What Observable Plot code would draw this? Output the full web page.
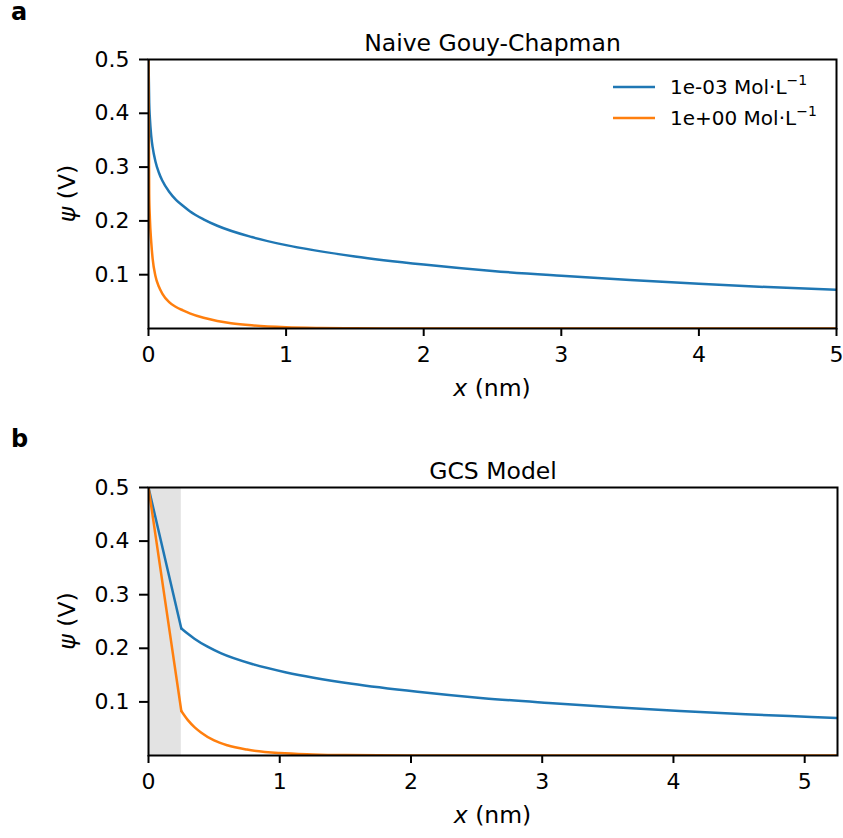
<!DOCTYPE html>
<html><head><meta charset="utf-8">
<script src="https://cdn.jsdelivr.net/npm/d3@7"></script>
<script src="https://cdn.jsdelivr.net/npm/@observablehq/plot@0.6"></script>
<style>
body{margin:0;background:#fff;}
#wrap{position:relative;width:843px;height:838px;font-family:"DejaVu Sans",sans-serif;}
#wrap svg{position:absolute;left:0;overflow:visible;}
</style></head><body><div id="wrap"></div>
<script>
// ---- Data ----
const seriesNames = ["1e-03 Mol·L", "1e+00 Mol·L"];
const seriesColors = ["#1f77b4", "#ff7f0e"];
const xTicksA = [0, 1, 2, 3, 4, 5];
const xTicksB = [0, 1, 2, 3, 4, 5];
const yTicks = [0.1, 0.2, 0.3, 0.4, 0.5];
const xDomainA = [0, 5];
const xDomainB = [0, 5.25];
const yDomain = [0, 0.5];
const sternLayer = [0, 0.25];

// Panel a: naive Gouy-Chapman
const gcLowX  = [0, 0.005, 0.01, 0.02, 0.03, 0.05, 0.075, 0.1, 0.15, 0.2, 0.25, 0.3, 0.4, 0.5, 0.75, 1, 1.5, 2, 2.5, 3, 3.5, 4, 4.5, 5];
const gcLowY  = [0.5, 0.42, 0.391, 0.357, 0.337, 0.311, 0.290, 0.275, 0.254, 0.239, 0.228, 0.218, 0.203, 0.191, 0.170, 0.155, 0.134, 0.119, 0.107, 0.098, 0.090, 0.083, 0.077, 0.072];
const gcHighX = [0, 0.005, 0.01, 0.02, 0.03, 0.05, 0.075, 0.1, 0.15, 0.2, 0.25, 0.3, 0.4, 0.5, 0.6, 0.75, 1, 1.25, 1.5, 2, 3, 5];
const gcHighY = [0.5, 0.25, 0.205, 0.16, 0.13, 0.098, 0.078, 0.065, 0.049, 0.040, 0.0337, 0.0282, 0.0199, 0.0140, 0.0099, 0.0059, 0.0024, 0.001, 0.0004, 0.0001, 0, 0];

// Panel b: GCS model (Stern segment + diffuse part)
const sternX = [0, 0.25];
const sternLowY = [0.5, 0.237];
const sternHighY = [0.5, 0.083];
const gcsLowX  = [0.25, 0.3, 0.35, 0.45, 0.55, 0.8, 1.05, 1.55, 2.05, 2.55, 3.05, 3.55, 4.05, 4.55, 5.05, 5.25];
const gcsLowY  = [0.237, 0.227, 0.218, 0.203, 0.191, 0.170, 0.155, 0.134, 0.119, 0.107, 0.098, 0.090, 0.083, 0.077, 0.072, 0.070];
const gcsHighX = [0.25, 0.3, 0.35, 0.4, 0.5, 0.6, 0.75, 1, 1.25, 1.5, 2, 3, 5.25];
const gcsHighY = [0.083, 0.066, 0.053, 0.043, 0.028, 0.019, 0.011, 0.0045, 0.002, 0.0008, 0.0001, 0, 0];

const rows = (xs, ys) => xs.map((x, i) => ({x, y: ys[i]}));

const FONT = "DejaVu Sans, sans-serif";
const wrap = document.getElementById("wrap");

function makePanel({title, xDomain, xTicks, segments, shade, top, mt, mb, mr}) {
  const marks = [];
  if (shade) marks.push(Plot.rect([shade], {x1: d => d[0], x2: d => d[1], y1: yDomain[0], y2: yDomain[1], fill: "#e3e3e3"}));
  for (const s of segments) {
    marks.push(Plot.line(s.data, {x: "x", y: "y", stroke: s.color, strokeWidth: 2.5, curve: s.curve, clip: true}));
  }
  marks.push(Plot.frame({stroke: "black", strokeWidth: 2}));
  marks.push(Plot.axisX({ticks: xTicks, tickSize: 8, tickPadding: 10, fontSize: 22, strokeWidth: 2, label: null, tickFormat: d3.format("d")}));
  marks.push(Plot.axisY({ticks: yTicks, tickSize: 9, tickPadding: 10, fontSize: 22, strokeWidth: 2, label: null, tickFormat: d3.format(".1f")}));
  marks.push(Plot.text([title], {text: d => d, frameAnchor: "top", lineAnchor: "bottom", dy: -9, fontSize: 23.5}));
  const svg = Plot.plot({
    width: 843, height: 419,
    marginLeft: 148, marginRight: mr, marginTop: mt, marginBottom: mb,
    x: {domain: xDomain}, y: {domain: yDomain},
    style: {fontFamily: FONT, color: "black", background: "transparent"},
    marks
  });
  svg.style.top = top + "px";
  wrap.appendChild(svg);
  const s = d3.select(svg);
  const frameLeft = 148, frameRight = 843 - mr, frameTop = mt, frameBottom = 419 - mb;
  // x label
  const xl = s.append("text").attr("x", (frameLeft + frameRight) / 2).attr("y", frameBottom + 68)
    .attr("text-anchor", "middle").attr("font-size", 23.5).attr("font-family", FONT).attr("fill", "black");
  xl.append("tspan").attr("font-style", "italic").text("x");
  xl.append("tspan").text(" (nm)");
  // y label
  const yl = s.append("text").attr("transform", `translate(75,${(frameTop + frameBottom) / 2}) rotate(-90)`)
    .attr("text-anchor", "middle").attr("font-size", 23.5).attr("font-family", FONT).attr("fill", "black");
  yl.append("tspan").attr("font-style", "italic").text("ψ");
  yl.append("tspan").text(" (V)");
  return s;
}

const sa = makePanel({
  title: "Naive Gouy-Chapman", xDomain: xDomainA, xTicks: xTicksA, top: 0, mt: 59, mb: 91, mr: 7,
  segments: [
    {data: rows(gcLowX, gcLowY), color: seriesColors[0], curve: "monotone-x"},
    {data: rows(gcHighX, gcHighY), color: seriesColors[1], curve: "monotone-x"}
  ]
});
const sb = makePanel({
  title: "GCS Model", xDomain: xDomainB, xTicks: xTicksB, top: 419, mt: 68, mb: 83, mr: 6, shade: sternLayer,
  segments: [
    {data: rows(sternX, sternLowY), color: seriesColors[0], curve: "linear"},
    {data: rows(sternX, sternHighY), color: seriesColors[1], curve: "linear"},
    {data: rows(gcsLowX, gcsLowY), color: seriesColors[0], curve: "monotone-x"},
    {data: rows(gcsHighX, gcsHighY), color: seriesColors[1], curve: "monotone-x"}
  ]
});

// legend in panel a
seriesNames.forEach((name, i) => {
  const y = 87 + i * 31;
  sa.append("line").attr("x1", 613).attr("x2", 655).attr("y1", y).attr("y2", y)
    .attr("stroke", seriesColors[i]).attr("stroke-width", 2.5);
  const t = sa.append("text").attr("x", 670).attr("y", y + 7).attr("font-size", 20)
    .attr("text-anchor", "start").attr("font-family", FONT).attr("fill", "black");
  t.append("tspan").text(name);
  t.append("tspan").attr("font-size", 14).attr("dy", -9).text("−1");
});

// panel letters
sa.append("text").attr("x", 11).attr("y", 20).attr("font-size", 24).attr("font-weight", "bold")
  .attr("text-anchor", "start").attr("font-family", FONT).text("a");
sb.append("text").attr("x", 11).attr("y", 27.7).attr("font-size", 24).attr("font-weight", "bold")
  .attr("text-anchor", "start").attr("font-family", FONT).text("b");
</script>
</body></html>
